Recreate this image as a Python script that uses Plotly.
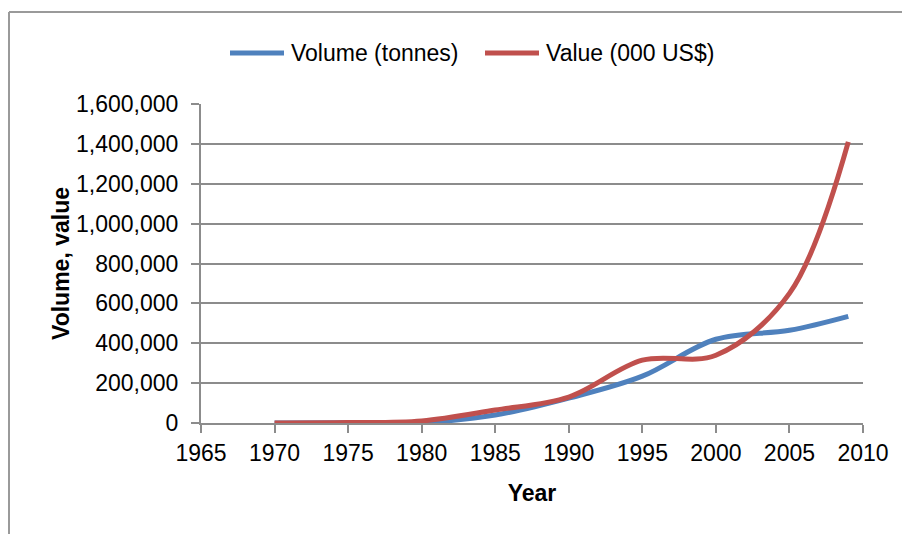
import plotly.graph_objects as go

# Production series, every five years from 1970 to 2009
years = [1970, 1975, 1980, 1985, 1990, 1995, 2000, 2005, 2009]
volume_tonnes = [0, 1000, 2000, 40000, 125000, 235000, 420000, 465000, 535000]
value_000usd = [0, 2000, 10000, 65000, 130000, 315000, 340000, 650000, 1410000]

series_names = ["Volume (tonnes)", "Value (000 US$)"]
series_colors = ["#4F81BD", "#C0504D"]

x_ticks = list(range(1965, 2011, 5))
y_ticks = list(range(0, 1600001, 200000))

FONT = "Liberation Sans Narrow, Arial Narrow, Liberation Sans, Arial, sans-serif"
GRID = "#8c8c8c"

fig = go.Figure()
for name, ys, color in zip(series_names, [volume_tonnes, value_000usd], series_colors):
    fig.add_trace(go.Scatter(
        x=years, y=ys, name=name, mode="lines", showlegend=False,
        line=dict(color=color, width=5, shape="spline", smoothing=1.0),
    ))

W, H = 902, 534
L, R, T, B = 201, 39, 104, 111
pw, ph = W - L - R, H - T - B


def px_x(x):
    return (x - L) / pw


def px_y(y):
    return (H - B - y) / ph


fig.update_layout(
    width=W, height=H,
    margin=dict(l=L, r=R, t=T, b=B),
    paper_bgcolor="white", plot_bgcolor="white",
    font=dict(family=FONT, size=23, color="black"),
    showlegend=False,
    xaxis=dict(
        range=[1965, 2010], tickvals=x_ticks, showgrid=False, zeroline=False,
        showline=True, linecolor=GRID, linewidth=2,
        ticks="outside", ticklen=8, tickwidth=2, tickcolor=GRID,
        tickfont=dict(family=FONT, size=23),
        title=dict(text="<b>Year</b>", font=dict(family=FONT, size=23), standoff=20),
    ),
    yaxis=dict(
        range=[0, 1600000], tickvals=y_ticks, tickformat=",d",
        showgrid=True, gridcolor=GRID, gridwidth=2, zeroline=False,
        showline=True, linecolor=GRID, linewidth=2,
        ticks="outside", ticklen=8, tickwidth=2, tickcolor=GRID,
        tickfont=dict(family=FONT, size=23), ticklabelstandoff=8,
        title=dict(text="<b>Volume, value</b>", font=dict(family=FONT, size=23), standoff=0),
    ),
)

# Legend: line swatch followed by the series name
legend_y = 53
for (x0, x1, tx), name, color in zip([(230, 284, 289), (485, 539, 544)], series_names, series_colors):
    fig.add_shape(type="line", xref="paper", yref="paper",
                  x0=px_x(x0), x1=px_x(x1), y0=px_y(legend_y), y1=px_y(legend_y),
                  line=dict(color=color, width=5))
    fig.add_annotation(xref="paper", yref="paper", x=px_x(tx), y=px_y(legend_y),
                       xanchor="left", yanchor="middle", text=name, showarrow=False,
                       font=dict(family=FONT, size=23, color="black"))

# Outer chart-area frame (left and top edges)
fx0 = px_x(9)
fy1 = px_y(12)
fig.add_shape(type="line", xref="paper", yref="paper", x0=fx0, x1=fx0, y0=px_y(H), y1=fy1,
              line=dict(color="#9a9a9a", width=2))
fig.add_shape(type="line", xref="paper", yref="paper", x0=fx0, x1=px_x(W), y0=fy1, y1=fy1,
              line=dict(color="#9a9a9a", width=2))

fig.write_html("out.html")
